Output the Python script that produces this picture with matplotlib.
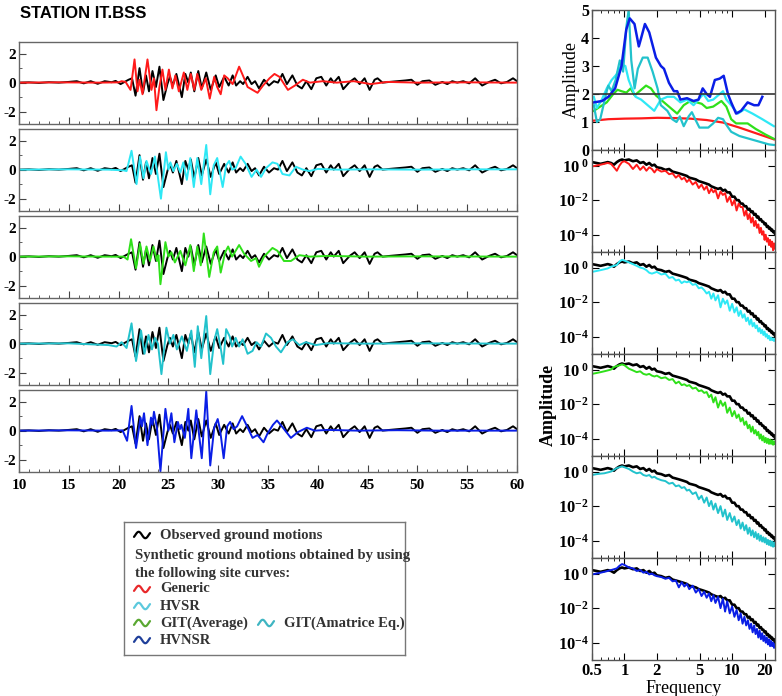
import numpy as np
import matplotlib
matplotlib.use('Agg')
import matplotlib.pyplot as plt
from matplotlib.ticker import FixedLocator, NullLocator

W, H = 782, 696

plt.rcParams['font.family'] = 'Liberation Serif'
plt.rcParams['font.weight'] = 'bold'
plt.rcParams['axes.unicode_minus'] = False
plt.rcParams['mathtext.fontset'] = 'custom'
plt.rcParams['mathtext.rm'] = 'Liberation Serif:bold'
plt.rcParams['mathtext.bf'] = 'Liberation Serif:bold'
plt.rcParams['mathtext.it'] = 'Liberation Serif:bold'

# ---- ground motion time series (time in s, velocity) ----
obs_t = [10, 11, 12, 13, 14, 15, 15.8, 16.5, 17.2, 17.9, 18.6, 19.3, 19.7, 20.2, 20.6, 21.0, 21.35,
         21.7, 22.1, 22.45, 22.75, 23.05, 23.4, 23.75, 24.1, 24.5, 24.9, 25.15, 25.45, 25.8, 26.35,
         26.7, 27.0, 27.25, 27.6, 28.0, 28.35, 28.8, 29.25, 29.75, 30.1, 30.6, 31.05, 31.45, 31.8,
         32.2, 32.5, 32.95, 33.35, 33.7, 34.1, 34.6, 35.1, 35.6, 36.0, 36.45, 36.9, 37.45, 37.95,
         38.4, 38.85, 39.35, 39.85, 40.35, 40.85, 41.3, 41.6, 42.1, 42.55, 43.2, 43.7, 44.2, 44.7,
         45.2, 45.7, 46.0, 46.5, 47.2, 48.0, 48.8, 49.4, 50.0, 50.5, 51.2, 51.8, 52.5, 53.0, 53.5,
         54.0, 54.6, 55.2, 55.8, 56.5, 57.2, 57.8, 58.4, 59.0, 59.6, 60.0]
obs_v = [0, 0.02, -0.02, 0.03, 0, 0.05, 0.1, -0.05, 0.1, -0.08, 0.1, 0.03, 0.12, -0.1, 0.05, 0.2, 0.3,
         -0.9, 1.0, -0.7, 0.5, -0.6, 0.8, -0.3, 1.1, -1.2, -0.1, 0.4, -0.2, 0.6, -1.0,
         0.6, 0.0, 0.7, -0.6, 0.8, -0.4, 0.7, -0.5, 0.5, -0.3, 0.4, -0.2, 0.5, -0.2,
         0.1, -0.1, 0.4, -0.1, 0.1, -0.4, 0.2, -0.2, 0.1, 0.0, 0.6, -0.1, 0.5, -0.2,
         -0.4, 0.1, -0.45, 0.3, 0.4, -0.2, 0.3, 0.0, 0.4, -0.45, 0.05, 0.3, -0.1, 0.3,
         -0.5, 0.2, 0.3, 0.0, 0.05, 0.1, 0.15, 0.2, -0.15, 0.1, 0.15, -0.15, 0.05, -0.1, 0.1,
         0.0, 0.1, -0.05, 0.3, -0.2, 0.05, 0.2, -0.05, 0.05, 0.3, 0.1]

generic_t = [10, 14, 18, 20, 20.3, 20.7, 21.2, 21.6, 21.9, 22.1, 22.4, 22.9, 23.3, 23.55, 23.8, 24.1,
             24.4, 24.7, 25.05, 25.4, 25.7, 26.05, 26.55, 26.9, 27.25, 27.6, 27.9, 28.3, 28.75,
             29.15, 29.6, 29.9, 30.25, 30.6, 30.95, 31.45, 32.1, 32.6, 32.95, 33.95, 34.5, 35.15,
             35.65, 36.15, 37.0, 37.7, 38.5, 39.2, 40.5, 41.9, 43.6, 45.3, 47, 50, 55, 60]
generic_v = [0, 0.02, 0, 0.02, 0.1, 0.05, -0.5, 1.6, -0.6, 0.2, -0.8, 1.6, -0.5, 0.3, -1.9, -0.3,
             0.9, -0.5, 0.9, -0.4, 0.5, -0.6, 0.7, -0.5, 0.6, -0.5, 0.6, -0.5, 0.3,
             -1.1, 0.4, -0.3, -0.8, 0.5, 0.3, -0.1, 1.1, 0.3, -0.3, -0.7, -0.2, 0.3,
             0.6, 0.4, -0.5, -0.2, 0.2, 0.0, 0.1, 0.0, 0.1, -0.1, 0.05, 0, 0.02, 0]

hvsr_t = [10, 15, 19, 20.5, 20.8, 21.3, 21.65, 21.8, 22.15, 22.5, 22.8, 23.25, 23.65, 24.25, 24.75,
          25.0, 25.2, 25.5, 25.85, 26.2, 26.5, 26.85, 27.2, 27.55, 27.9, 28.3, 28.8, 29.2, 29.55,
          29.9, 30.2, 30.45, 30.8, 31.1, 31.4, 31.75, 32.25, 32.75, 33.35, 33.85, 34.3, 34.8,
          35.45, 35.95, 36.45, 37.15, 37.8, 38.5, 39.15, 40, 42, 45, 50, 55, 60]
hvsr_v = [0, 0.02, 0, -0.05, -0.1, 1.3, -0.3, -1.0, 0.9, -0.6, 0.6, -0.3, 0.9, -2.0, 1.2,
          0.0, 0.5, -0.1, 0.4, -0.2, 0.5, -0.7, 0.8, -1.2, 0.8, -1.0, 1.7, -1.7, 0.3,
          0.8, -0.3, -1.2, 0.3, 0.6, 0.0, 0.1, 0.9, 0.4, -0.5, 0.0, -0.5, 0.1,
          0.5, 0.4, -0.3, -0.4, 0.2, 0.0, -0.1, 0.05, 0, 0.02, 0, 0.02, 0.02]

gitavg_t = [10, 15, 19, 20.5, 20.9, 21.25, 21.75, 22.15, 22.5, 22.8, 23.15, 23.5, 23.85, 24.0, 24.2,
            24.7, 25.0, 25.3, 25.65, 26.2, 26.7, 27.2, 27.55, 27.9, 28.25, 28.55, 29.1, 29.55,
            29.9, 30.25, 30.7, 31.0, 31.4, 32.1, 32.6, 33.3, 33.8, 34.1, 34.6, 35.45, 35.95,
            36.6, 37.3, 38.15, 39.2, 41, 45, 50, 60]
gitavg_v = [0, 0.02, 0, 0.0, -0.2, 1.2, -0.8, 0.9, -0.5, 0.7, -0.3, 0.7, -0.3, 0.1, -1.9,
            1.0, 0.0, 0.3, -0.4, 0.4, -0.6, 0.8, -1.0, 0.7, -0.6, 1.6, -1.4, 0.3,
            0.7, -1.1, 0.3, 0.7, 0.0, 0.8, 0.2, -0.3, -0.1, -0.7, 0.0, 0.6, 0.4,
            -0.3, -0.3, 0.1, 0.0, 0.05, 0, 0.02, 0]

gitama_t = [10, 15, 19.0, 19.8, 20.3, 20.8, 21.3, 21.75, 22.25, 22.6, 23.0, 23.35, 23.65, 23.95,
            24.3, 24.8, 25.15, 25.5, 25.85, 26.35, 26.85, 27.3, 27.65, 27.95, 28.3, 28.8, 29.2,
            29.6, 29.9, 30.25, 30.5, 30.8, 31.15, 31.4, 31.75, 32.1, 32.45, 32.95, 33.45, 33.85,
            34.3, 34.8, 35.3, 35.8, 36.3, 36.95, 37.5, 38.15, 38.8, 39.8, 41, 45, 50, 60]
gitama_v = [0, 0.02, -0.1, -0.2, 0.1, -0.3, 1.4, -1.2, 0.9, -0.7, 0.6, -0.4, 0.4, 0.0,
            -2.1, 1.1, 0.0, 0.6, -0.4, 0.5, -0.5, 0.9, -1.6, 1.2, -1.0, 1.9, -2.1,
            0.2, 1.0, -0.3, -1.4, 1.0, 0.5, -0.2, 0.4, -0.2, 0.3, -0.7, -0.5, 0.1,
            -0.2, 0.7, 0.4, -0.2, -0.6, 0.1, 0.3, -0.1, 0.1, -0.1, 0.03, 0, 0.02, 0]

hvnsr_t = [10, 15, 19, 20.4, 20.85, 21.3, 21.75, 22.2, 22.35, 22.55, 22.9, 23.25, 23.4, 23.55,
           23.85, 24.2, 24.7, 25.0, 25.3, 25.6, 25.95, 26.15, 26.3, 26.65, 27.0, 27.3, 27.8,
           28.35, 28.8, 29.2, 29.6, 29.95, 30.2, 30.55, 30.9, 31.2, 31.55, 31.9, 32.4, 32.9,
           33.45, 33.95, 34.55, 34.95, 35.5, 35.9, 36.5, 37.3, 38.0, 38.9, 39.7, 41, 44, 48, 52, 60]
hvnsr_v = [0, 0.02, 0, 0.02, -0.7, 1.7, -1.2, 0.9, 0.3, 1.2, -1.0, 0.9, 0.4, 1.3,
           0.2, -2.8, 1.5, 0.0, 1.2, -0.8, 0.6, 0.1, 0.4, -0.5, 1.5, -1.9, 1.4,
           -1.9, 2.7, -2.4, 0.2, 0.8, 0.0, -1.9, 0.3, 0.6, 0.1, 0.3, 1.0, 0.3,
           -0.5, -0.3, -0.8, -0.2, 0.4, 0.7, 0.2, -0.5, -0.1, 0.2, 0.0, 0.05, 0, 0.03, 0, 0]

# ---- site amplification curves (frequency in Hz, amplitude) ----
generic_f = [0.52, 0.709, 1.0, 1.429, 2.03, 2.879, 4.087, 5.80, 8.23, 11.68, 16.58, 24.4]
generic_a = [1.05, 1.1, 1.12, 1.13, 1.15, 1.14, 1.12, 1.07, 0.98, 0.8, 0.6, 0.38]

hvsr_f = [0.52, 0.555, 0.617, 0.685, 0.761, 0.845, 0.939, 1.02, 1.095, 1.175, 1.269, 1.429,
          1.644, 1.891, 2.176, 2.503, 2.879, 3.312, 3.81, 4.383, 4.87, 5.41, 6.0, 6.67, 7.67,
          8.23, 8.83, 9.8, 11.28, 12.98, 15.46, 19.06, 24.4]
hvsr_a = [1.9, 1.5, 1.8, 2.2, 2.5, 2.7, 3.05, 3.0, 2.5, 2.2, 1.9, 1.8,
          1.6, 1.4, 1.8, 1.9, 1.9, 1.7, 1.8, 1.6, 1.8, 2.0, 1.75, 1.8, 2.0,
          2.1, 1.8, 1.6, 1.3, 1.45, 1.3, 1.1, 0.85]

gitavg_f = [0.52, 0.596, 0.685, 0.788, 0.863, 0.939, 1.043, 1.142, 1.243, 1.38, 1.587, 1.764,
            1.959, 2.176, 2.416, 2.684, 3.088, 3.552, 4.087, 4.70, 5.22, 5.80, 6.67, 7.95,
            8.83, 9.8, 10.89, 12.53, 13.92, 16.58, 20.46, 24.4]
gitavg_a = [1.4, 1.55, 1.7, 2.0, 2.15, 2.1, 2.05, 2.2, 1.95, 2.1, 2.3, 2.2,
            1.95, 1.8, 1.65, 1.5, 1.3, 1.6, 1.75, 1.7, 1.65, 1.5, 1.55, 1.75,
            1.55, 1.1, 0.95, 0.95, 0.95, 0.75, 0.55, 0.4]

gitama_f = [0.52, 0.555, 0.596, 0.685, 0.709, 0.761, 0.828, 0.906, 0.972, 1.043, 1.095, 1.158,
            1.243, 1.332, 1.48, 1.644, 1.826, 2.03, 2.176, 2.503, 2.78, 3.045, 3.266, 3.552,
            3.945, 4.23, 4.54, 4.97, 5.41, 6.0, 6.67, 7.41, 8.23, 8.83, 9.8, 11.68, 14.42,
            17.78, 21.94, 24.4]
gitama_a = [1.6, 1.0, 1.1, 2.1, 2.3, 2.1, 2.5, 3.2, 2.8, 4.4, 5.0, 3.2,
            2.2, 2.9, 3.3, 3.3, 2.8, 2.2, 1.6, 1.4, 1.1, 1.0, 1.2, 0.85,
            1.2, 1.35, 1.1, 0.8, 0.8, 0.8, 0.95, 1.15, 1.1, 0.9, 0.65, 0.5, 0.4,
            0.3, 0.2, 0.18]

hvnsr_f = [0.52, 0.62, 0.71, 0.82, 0.94, 1.04, 1.12, 1.24, 1.36, 1.43, 1.55, 1.70,
           1.96, 2.18, 2.33, 2.59, 2.88, 3.09, 3.31, 3.81, 4.38, 4.87, 5.33, 5.80,
           6.22, 6.91, 7.67, 8.35, 9.14, 9.80, 10.89, 12.1, 13.92, 16.0, 17.54, 19.06]
hvnsr_a = [1.7, 1.75, 1.9, 2.2, 3.0, 4.3, 4.7, 4.5, 3.7, 4.0, 4.5, 4.2,
           3.3, 3.0, 2.9, 2.4, 2.1, 2.1, 1.8, 1.85, 1.75, 1.8, 2.2, 2.0,
           1.9, 2.5, 2.55, 2.65, 2.0, 1.7, 1.3, 1.4, 1.7, 1.6, 1.6, 1.9]

ref_level = 2.0

# ---- Fourier spectra (log10 amplitude) ----
freq = [0.5, 0.55, 0.6, 0.65, 0.7, 0.75, 0.8, 0.85, 0.9, 0.95,
        1.0, 1.1, 1.2, 1.3, 1.4, 1.5, 1.6, 1.7, 1.8, 1.9,
        2.0, 2.2, 2.4, 2.6, 2.8, 3.0, 3.2, 3.4, 3.6, 3.8,
        4.0, 4.3, 4.6, 4.9, 5.2, 5.5, 5.8, 6.1, 6.4, 6.7,
        7.0, 7.4, 7.8, 8.2, 8.6, 9.0, 9.5, 10, 10.5, 11,
        11.5, 12, 12.5, 13, 13.5, 14, 14.5, 15, 15.5, 16,
        16.5, 17, 17.5, 18, 18.5, 19, 19.5, 20, 20.5, 21,
        21.5, 22, 22.5, 23, 23.5, 24, 24.5, 25]

obs_spec = [0.2, 0.15, 0.1, 0.15, 0.2, 0.15, 0.05, 0.2, 0.3, 0.35,
            0.3, 0.35, 0.25, 0.3, 0.15, 0.2, 0.05, 0.15, 0.0, 0.05,
            -0.1, -0.15, -0.25, -0.2, -0.35, -0.4, -0.45, -0.5, -0.55, -0.6,
            -0.7, -0.75, -0.8, -0.9, -0.95, -1.0, -1.05, -1.1, -1.2, -1.25,
            -1.3, -1.35, -1.3, -1.45, -1.4, -1.55, -1.55, -1.8, -1.8, -2.0,
            -2.0, -2.2, -2.2, -2.35, -2.35, -2.55, -2.5, -2.7, -2.65, -2.85,
            -2.8, -3.0, -2.95, -3.15, -3.1, -3.25, -3.25, -3.4, -3.35, -3.55,
            -3.5, -3.65, -3.6, -3.75, -3.7, -3.85, -3.8, -3.95]

generic_spec = [-0.05, 0.0, 0.05, 0.1, 0.15, 0.1, -0.1, -0.3, 0.0, 0.2,
                0.25, 0.1, -0.2, 0.05, -0.25, -0.05, -0.3, -0.1, -0.2, -0.4,
                -0.2, -0.35, -0.3, -0.5, -0.45, -0.7, -0.55, -0.8, -0.7, -0.95,
                -0.8, -1.1, -0.95, -1.3, -1.1, -1.4, -1.2, -1.6, -1.35, -1.55,
                -1.4, -1.9, -1.5, -1.7, -1.6, -2.1, -1.8, -2.3, -2.0, -2.6,
                -2.2, -2.4, -2.4, -2.9, -2.6, -3.1, -2.8, -3.3, -3.0, -3.5,
                -3.2, -3.6, -3.4, -3.9, -3.6, -4.0, -3.8, -4.3, -4.0, -4.4,
                -4.2, -4.6, -4.3, -4.7, -4.4, -4.9, -4.5, -4.8]

hvsr_spec = [-0.25, -0.2, -0.15, -0.1, -0.05, 0.05, 0.1, 0.15, 0.35, 0.45,
             0.4, 0.3, 0.2, 0.1, 0.0, -0.05, -0.15, -0.3, -0.35, -0.3,
             -0.25, -0.4, -0.35, -0.6, -0.55, -0.75, -0.7, -0.9, -0.8, -0.85,
             -0.8, -1.0, -0.95, -1.2, -1.15, -1.3, -1.5, -1.4, -1.8, -1.5,
             -1.9, -1.6, -2.3, -1.8, -2.1, -1.9, -2.5, -2.1, -2.6, -2.3,
             -2.8, -2.5, -2.9, -2.7, -3.1, -2.9, -3.3, -3.0, -3.4, -3.2,
             -3.5, -3.35, -3.7, -3.5, -3.8, -3.6, -3.9, -3.7, -4.0, -3.85,
             -4.1, -3.95, -4.2, -4.05, -4.2, -4.1, -4.25, -4.15]

gitavg_spec = [-0.25, -0.2, -0.15, -0.1, -0.05, 0.0, 0.15, 0.2, 0.25, 0.3,
               0.25, 0.05, -0.05, -0.15, -0.1, -0.25, -0.3, -0.25, -0.35, -0.4,
               -0.35, -0.5, -0.45, -0.6, -0.55, -0.8, -0.7, -0.9, -0.85, -0.95,
               -0.9, -1.1, -1.05, -1.25, -1.2, -1.35, -1.3, -1.6, -1.45, -1.9,
               -1.6, -2.2, -1.8, -2.1, -1.9, -2.5, -2.2, -2.7, -2.4, -2.8,
               -2.6, -3.0, -2.8, -3.2, -3.0, -3.4, -3.2, -3.6, -3.3, -3.7,
               -3.5, -3.8, -3.6, -4.0, -3.75, -4.1, -3.85, -4.2, -3.95, -4.25,
               -4.0, -4.3, -4.05, -4.3, -4.1, -4.35, -4.15, -4.3]

gitama_spec = [-0.2, -0.15, -0.12, -0.1, -0.05, 0.0, 0.1, 0.2, 0.25, 0.3,
               0.25, 0.15, 0.0, -0.1, -0.05, -0.2, -0.25, -0.2, -0.35, -0.3,
               -0.4, -0.5, -0.55, -0.7, -0.65, -0.85, -0.8, -0.95, -0.9, -1.1,
               -1.05, -1.3, -1.2, -1.6, -1.4, -1.8, -1.5, -2.0, -1.7, -2.2,
               -1.85, -2.4, -2.0, -2.6, -2.2, -2.8, -2.4, -2.9, -2.6, -3.1,
               -2.8, -3.3, -2.95, -3.4, -3.1, -3.6, -3.25, -3.7, -3.4, -3.8,
               -3.5, -3.9, -3.6, -4.0, -3.7, -4.05, -3.8, -4.1, -3.85, -4.2,
               -3.95, -4.25, -4.0, -4.3, -4.05, -4.35, -4.1, -4.3]

hvnsr_spec = [-0.05, 0.0, 0.05, 0.1, 0.15, 0.2, 0.25, 0.3, 0.45, 0.55,
              0.5, 0.35, 0.3, 0.15, 0.2, 0.05, 0.1, -0.05, 0.0, -0.1,
              -0.15, -0.2, -0.3, -0.25, -0.45, -0.4, -0.8, -0.5, -0.75, -0.6,
              -0.9, -0.7, -1.1, -0.9, -1.3, -1.05, -1.4, -1.15, -1.6, -1.25,
              -1.7, -1.35, -2.0, -1.45, -2.2, -1.6, -2.3, -1.9, -2.5, -2.1,
              -2.7, -2.3, -2.9, -2.5, -3.0, -2.7, -3.2, -2.9, -3.4, -3.0,
              -3.5, -3.2, -3.7, -3.3, -3.8, -3.45, -3.9, -3.6, -4.0, -3.7,
              -4.1, -3.8, -4.2, -3.9, -4.2, -4.0, -4.3, -4.1]

c_generic = '#ff1a1a'
c_hvsr = '#2ee8f5'
c_gitavg = '#2fe01a'
c_gitama = '#22c2cc'
c_hvnsr = '#0a1ee6'

fig = plt.figure(figsize=(W / 100, H / 100), dpi=100)


def pax(l, t, r, b):
    return fig.add_axes([l / W, 1 - b / H, (r - l) / W, (b - t) / H])


def style(ax, col='#555555'):
    for s in ax.spines.values():
        s.set_color(col)
        s.set_linewidth(1.0)


# left: time series panels
panels = [(generic_t, generic_v, c_generic), (hvsr_t, hvsr_v, c_hvsr),
          (gitavg_t, gitavg_v, c_gitavg), (gitama_t, gitama_v, c_gitama),
          (hvnsr_t, hvnsr_v, c_hvnsr)]
for i, (ts, vs, col) in enumerate(panels):
    top = 42 + 87 * i
    ax = pax(19, top, 517, top + 82)
    ax.plot(obs_t, obs_v, color='k', lw=1.4)
    ax.plot(ts, vs, color=col, lw=1.4)
    ax.set_xlim(10, 60)
    ax.set_ylim(-2.85, 2.8)
    ax.set_yticks([-2, 0, 2])
    ax.yaxis.set_minor_locator(FixedLocator([-1, 1]))
    ax.set_xticks(range(10, 61, 5))
    ax.xaxis.set_minor_locator(FixedLocator(list(range(10, 61))))
    ax.tick_params(which='both', direction='in', labelsize=11, pad=2, colors='#444444',
                   labelcolor='black')
    ax.tick_params(axis='x', pad=5)
    ax.tick_params(which='major', length=5)
    ax.tick_params(which='minor', length=2.5)
    if i < 4:
        ax.set_xticklabels([])
    style(ax, '#666666')

# right: site curves
fmaj = [0.5, 1, 2, 5, 10, 20]
fmin = [0.6, 0.7, 0.8, 0.9, 3, 4, 6, 7, 8, 9]
ax0 = pax(592, 10, 775, 150)
ax0.set_xscale('log')
ax0.plot(generic_f, generic_a, color=c_generic, lw=1.6)
ax0.plot(gitavg_f, gitavg_a, color=c_gitavg, lw=1.6)
ax0.plot(hvsr_f, hvsr_a, color=c_hvsr, lw=1.6)
ax0.plot(gitama_f, gitama_a, color=c_gitama, lw=1.6)
ax0.plot(hvnsr_f, hvnsr_a, color=c_hvnsr, lw=1.8)
ax0.axhline(ref_level, color='#333333', lw=1.2)
ax0.set_xlim(0.5, 25)
ax0.set_ylim(0, 5)
ax0.set_yticks(range(6))
ax0.xaxis.set_major_locator(FixedLocator(fmaj))
ax0.xaxis.set_minor_locator(FixedLocator(fmin))
ax0.set_xticklabels([])
ax0.tick_params(which='both', direction='in', labelsize=11.5, pad=2, top=True)
ax0.tick_params(which='major', length=5)
ax0.tick_params(which='minor', length=2.5)
ax0.set_ylabel('Amplitude', fontsize=13, labelpad=1)
style(ax0)

# right: Fourier spectra
specs = [(generic_spec, c_generic), (hvsr_spec, c_hvsr), (gitavg_spec, c_gitavg),
         (gitama_spec, c_gitama), (hvnsr_spec, c_hvnsr)]
for j, (sp, col) in enumerate(specs):
    top = 150 + 102 * j
    ax = pax(592, top, 775, top + 102)
    ax.set_xscale('log')
    ax.set_yscale('log')
    ax.plot(freq, 10 ** np.array(obs_spec), color='k', lw=1.9)
    ax.plot(freq, 10 ** np.array(sp), color=col, lw=1.4)
    ax.set_xlim(0.5, 25)
    ax.set_ylim(1e-5, 10 ** 0.9)
    ax.set_yticks([1, 1e-2, 1e-4])
    ax.set_yticklabels([r'$\mathbf{10^{\ 0}}$', r'$\mathbf{10^{-2}}$', r'$\mathbf{10^{-4}}$'])
    ax.yaxis.set_minor_locator(NullLocator())
    ax.xaxis.set_major_locator(FixedLocator(fmaj))
    ax.xaxis.set_minor_locator(FixedLocator(fmin))
    ax.tick_params(which='both', direction='in', labelsize=12, pad=2, top=True, right=True)
    ax.tick_params(which='major', length=5)
    ax.tick_params(which='minor', length=2.5)
    if j < 4:
        ax.set_xticklabels([])
    else:
        ax.set_xticklabels(['0.5', '1', '2', '5', '10', '20'])
        ax.set_xlabel('Frequency', fontsize=13, labelpad=1)
    style(ax)

fig.text(548 / W, 1 - 405 / H, 'Amplitude', rotation=90, ha='center', va='center', fontsize=13)

# title
fig.text(20 / W, 1 - 13 / H, 'STATION IT.BSS', family='Liberation Sans', weight='bold',
         fontsize=12, va='center', ha='left')

# legend box
lg = pax(124, 522, 405, 655)
lg.set_xlim(0, 281)
lg.set_ylim(133, 0)
lg.set_xticks([])
lg.set_yticks([])
for s in lg.spines.values():
    s.set_color('#777777')
    s.set_linewidth(1.0)

wave_x = np.linspace(-0.1, 1.1, 40)
wave_y = np.sin(2 * np.pi * wave_x)


def glyph(x0, yc, col):
    lg.plot(x0 + 16 * (wave_x + 0.1) / 1.2, yc - 3.2 * wave_y, color=col, lw=1.6,
            solid_capstyle='round')


txt = dict(fontsize=10.5, color='#333333', va='center', ha='left')
glyph(10, 13, 'black')
lg.text(36, 13, 'Observed ground motions', **txt)
lg.text(11, 34, 'Synthetic ground motions obtained by using', **txt)
lg.text(11, 51, 'the following site curves:', **txt)
glyph(10, 67, '#e8282a')
lg.text(36, 67, 'Generic', **txt)
glyph(10, 84, '#5cc9dd')
lg.text(36, 84, 'HVSR', **txt)
glyph(10, 101, '#5aa832')
lg.text(36, 101, 'GIT(Average)', **txt)
glyph(134, 101, '#3fb5c2')
lg.text(160, 101, 'GIT(Amatrice Eq.)', **txt)
glyph(10, 118, '#1f3f9a')
lg.text(36, 118, 'HVNSR', **txt)

fig.savefig('out.png', dpi=100)
